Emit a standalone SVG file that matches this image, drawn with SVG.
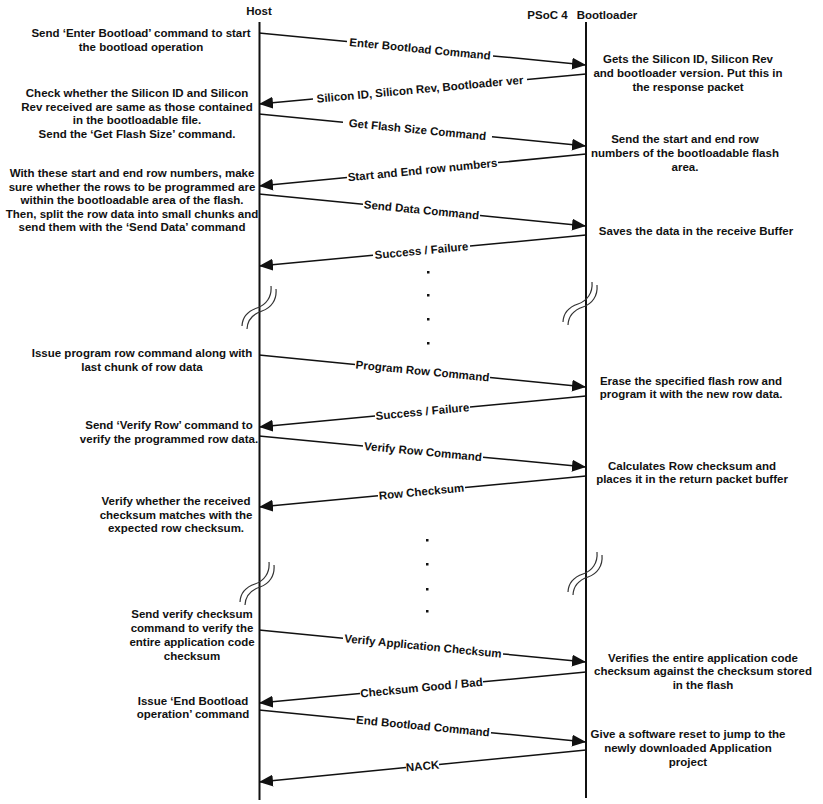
<svg xmlns="http://www.w3.org/2000/svg" width="823" height="804" viewBox="0 0 823 804">
<style>
text{font-family:"Liberation Sans",Arial,sans-serif;font-weight:bold;font-size:11.5px;fill:#111;}
.n{text-anchor:middle;}
.lbl{text-anchor:middle;}
.life{stroke:#111;stroke-width:2;fill:none;}
.msg{stroke:#111;stroke-width:1.5;fill:none;}
.brk{stroke:#333;stroke-width:1.2;fill:none;}
.dot{fill:#111;}
</style>
<defs>
<marker id="ah" markerWidth="14" markerHeight="12" refX="14" refY="6" orient="auto" markerUnits="userSpaceOnUse"><path d="M0,0 L14,6 L0,12 z" fill="#111"/></marker>
<path id="brkshape" d="M0,40 C0.5,30 6,25 15,22 C24,19 30,11 29,0"/>
</defs>
<rect width="823" height="804" fill="#fff"/>

<g id="host">
<text class="n" x="259" y="15">Host</text>
<line class="life" x1="259.5" y1="22" x2="259.5" y2="800"/>
<use href="#brkshape" class="brk" x="242" y="286"/>
<use href="#brkshape" class="brk" x="247" y="289"/>
<use href="#brkshape" class="brk" x="240" y="562"/>
<use href="#brkshape" class="brk" x="245" y="565"/>
</g>

<g id="bootloader">
<text class="n" x="547.5" y="19">PSoC 4</text>
<text class="n" x="607" y="19">Bootloader</text>
<line class="life" x1="586" y1="22" x2="586" y2="798"/>
<use href="#brkshape" class="brk" x="563" y="282"/>
<use href="#brkshape" class="brk" x="568" y="285"/>
<use href="#brkshape" class="brk" x="568" y="552"/>
<use href="#brkshape" class="brk" x="573" y="555"/>
</g>

<g id="dots">
<rect class="dot" x="427" y="271" width="2.5" height="2.5"/>
<rect class="dot" x="427" y="294" width="2.5" height="2.5"/>
<rect class="dot" x="427" y="318" width="2.5" height="2.5"/>
<rect class="dot" x="427" y="342" width="2.5" height="2.5"/>
<rect class="dot" x="426" y="539" width="2.5" height="2.5"/>
<rect class="dot" x="426" y="563" width="2.5" height="2.5"/>
<rect class="dot" x="426" y="588" width="2.5" height="2.5"/>
<rect class="dot" x="426" y="610" width="2.5" height="2.5"/>
</g>

<g id="host-notes">
<g id="note-h1"><text class="n" x="141" y="37">Send ‘Enter Bootload’ command to start</text><text class="n" x="141" y="51">the bootload operation</text></g>
<g id="note-h2"><text class="n" x="137" y="97">Check whether the Silicon ID and Silicon</text><text class="n" x="137" y="110.5">Rev received are same as those contained</text><text class="n" x="137" y="124">in the bootloadable file.</text><text class="n" x="137" y="137.5">Send the ‘Get Flash Size’ command.</text></g>
<g id="note-h3"><text class="n" x="132" y="177">With these start and end row numbers, make</text><text class="n" x="132" y="190.5">sure whether the rows to be programmed are</text><text class="n" x="132" y="204">within the bootloadable area of the flash.</text><text class="n" x="132" y="217.5">Then, split the row data into small chunks and</text><text class="n" x="132" y="231">send them with the ‘Send Data’ command</text></g>
<g id="note-h4"><text class="n" x="142" y="357">Issue program row command along with</text><text class="n" x="142" y="370.5">last chunk of row data</text></g>
<g id="note-h5"><text class="n" x="169" y="429">Send ‘Verify Row’ command to</text><text class="n" x="169" y="442.5">verify the programmed row data.</text></g>
<g id="note-h6"><text class="n" x="176" y="505">Verify whether the received</text><text class="n" x="176" y="518.5">checksum matches with the</text><text class="n" x="176" y="532">expected row checksum.</text></g>
<g id="note-h7"><text class="n" x="192" y="618">Send verify checksum</text><text class="n" x="192" y="632">command to verify the</text><text class="n" x="192" y="645.5">entire application code</text><text class="n" x="192" y="659.5">checksum</text></g>
<g id="note-h8"><text class="n" x="193" y="705">Issue ‘End Bootload</text><text class="n" x="193" y="718">operation’ command</text></g>
</g>

<g id="boot-notes">
<g id="note-b1"><text class="n" x="688" y="63">Gets the Silicon ID, Silicon Rev</text><text class="n" x="688" y="77">and bootloader version. Put this in</text><text class="n" x="688" y="91">the response packet</text></g>
<g id="note-b2"><text class="n" x="685" y="143">Send the start and end row</text><text class="n" x="685" y="157">numbers of the bootloadable flash</text><text class="n" x="685" y="171">area.</text></g>
<g id="note-b3"><text class="n" x="696" y="235">Saves the data in the receive Buffer</text></g>
<g id="note-b4"><text class="n" x="691" y="385">Erase the specified flash row and</text><text class="n" x="691" y="398">program it with the new row data.</text></g>
<g id="note-b5"><text class="n" x="692" y="470">Calculates Row checksum and</text><text class="n" x="692" y="483">places it in the return packet buffer</text></g>
<g id="note-b6"><text class="n" x="703" y="662">Verifies the entire application code</text><text class="n" x="703" y="675">checksum against the checksum stored</text><text class="n" x="703" y="688.5">in the flash</text></g>
<g id="note-b7"><text class="n" x="688" y="738">Give a software reset to jump to the</text><text class="n" x="688" y="752">newly downloaded Application</text><text class="n" x="688" y="766">project</text></g>
</g>

<g id="connectors">
<line class="msg" x1="259" y1="33" x2="347" y2="41.6"/>
<line class="msg" x1="493" y1="55.9" x2="586" y2="65" marker-end="url(#ah)"/>
<text class="lbl" x="420" y="48.8" dy="0.35em" transform="rotate(5.59 420 48.8)">Enter Bootload Command</text>
<line class="msg" x1="586" y1="74" x2="527" y2="79.4"/>
<line class="msg" x1="313" y1="99" x2="259" y2="104" marker-end="url(#ah)"/>
<text class="lbl" x="420" y="89.2" dy="0.35em" transform="rotate(-5.24 420 89.2)">Silicon ID, Silicon Rev, Bootloader ver</text>
<line class="msg" x1="259" y1="114" x2="343" y2="122.2"/>
<line class="msg" x1="492" y1="136.8" x2="586" y2="146" marker-end="url(#ah)"/>
<text class="lbl" x="417.5" y="129.5" dy="0.35em" transform="rotate(5.59 417.5 129.5)">Get Flash Size Command</text>
<line class="msg" x1="586" y1="154" x2="498" y2="162.6"/>
<line class="msg" x1="347" y1="177.4" x2="259" y2="186" marker-end="url(#ah)"/>
<text class="lbl" x="422.5" y="170" dy="0.35em" transform="rotate(-5.59 422.5 170)">Start and End row numbers</text>
<line class="msg" x1="259" y1="194" x2="363" y2="204.2"/>
<line class="msg" x1="480" y1="215.6" x2="586" y2="226" marker-end="url(#ah)"/>
<text class="lbl" x="421.5" y="209.9" dy="0.35em" transform="rotate(5.59 421.5 209.9)">Send Data Command</text>
<line class="msg" x1="586" y1="235" x2="470" y2="246"/>
<line class="msg" x1="373" y1="255.2" x2="259" y2="266" marker-end="url(#ah)"/>
<text class="lbl" x="421.5" y="250.6" dy="0.35em" transform="rotate(-5.42 421.5 250.6)">Success / Failure</text>
<line class="msg" x1="259" y1="355" x2="355" y2="364.4"/>
<line class="msg" x1="490" y1="377.6" x2="586" y2="387" marker-end="url(#ah)"/>
<text class="lbl" x="422.5" y="371" dy="0.35em" transform="rotate(5.59 422.5 371)">Program Row Command</text>
<line class="msg" x1="586" y1="396" x2="470" y2="407"/>
<line class="msg" x1="375" y1="416" x2="259" y2="427" marker-end="url(#ah)"/>
<text class="lbl" x="422.5" y="411.5" dy="0.35em" transform="rotate(-5.42 422.5 411.5)">Success / Failure</text>
<line class="msg" x1="259" y1="436" x2="363" y2="445.9"/>
<line class="msg" x1="483" y1="457.2" x2="586" y2="467" marker-end="url(#ah)"/>
<text class="lbl" x="423" y="451.5" dy="0.35em" transform="rotate(5.42 423 451.5)">Verify Row Command</text>
<line class="msg" x1="586" y1="476" x2="465" y2="487.5"/>
<line class="msg" x1="378" y1="495.7" x2="259" y2="507" marker-end="url(#ah)"/>
<text class="lbl" x="421.5" y="491.6" dy="0.35em" transform="rotate(-5.42 421.5 491.6)">Row Checksum</text>
<line class="msg" x1="259" y1="630" x2="343" y2="638.2"/>
<line class="msg" x1="503" y1="653.9" x2="586" y2="662" marker-end="url(#ah)"/>
<text class="lbl" x="423" y="646" dy="0.35em" transform="rotate(5.59 423 646)">Verify Application Checksum</text>
<line class="msg" x1="586" y1="672" x2="483" y2="681.8"/>
<line class="msg" x1="360" y1="693.4" x2="259" y2="703" marker-end="url(#ah)"/>
<text class="lbl" x="421.5" y="687.6" dy="0.35em" transform="rotate(-5.42 421.5 687.6)">Checksum Good / Bad</text>
<line class="msg" x1="259" y1="710" x2="355" y2="719.4"/>
<line class="msg" x1="491" y1="732.7" x2="586" y2="742" marker-end="url(#ah)"/>
<text class="lbl" x="423" y="726" dy="0.35em" transform="rotate(5.59 423 726)">End Bootload Command</text>
<line class="msg" x1="586" y1="750" x2="439" y2="764.4"/>
<line class="msg" x1="406" y1="767.6" x2="259" y2="782" marker-end="url(#ah)"/>
<text class="lbl" x="422.5" y="766" dy="0.35em" transform="rotate(-5.59 422.5 766)">NACK</text>
</g>
</svg>
